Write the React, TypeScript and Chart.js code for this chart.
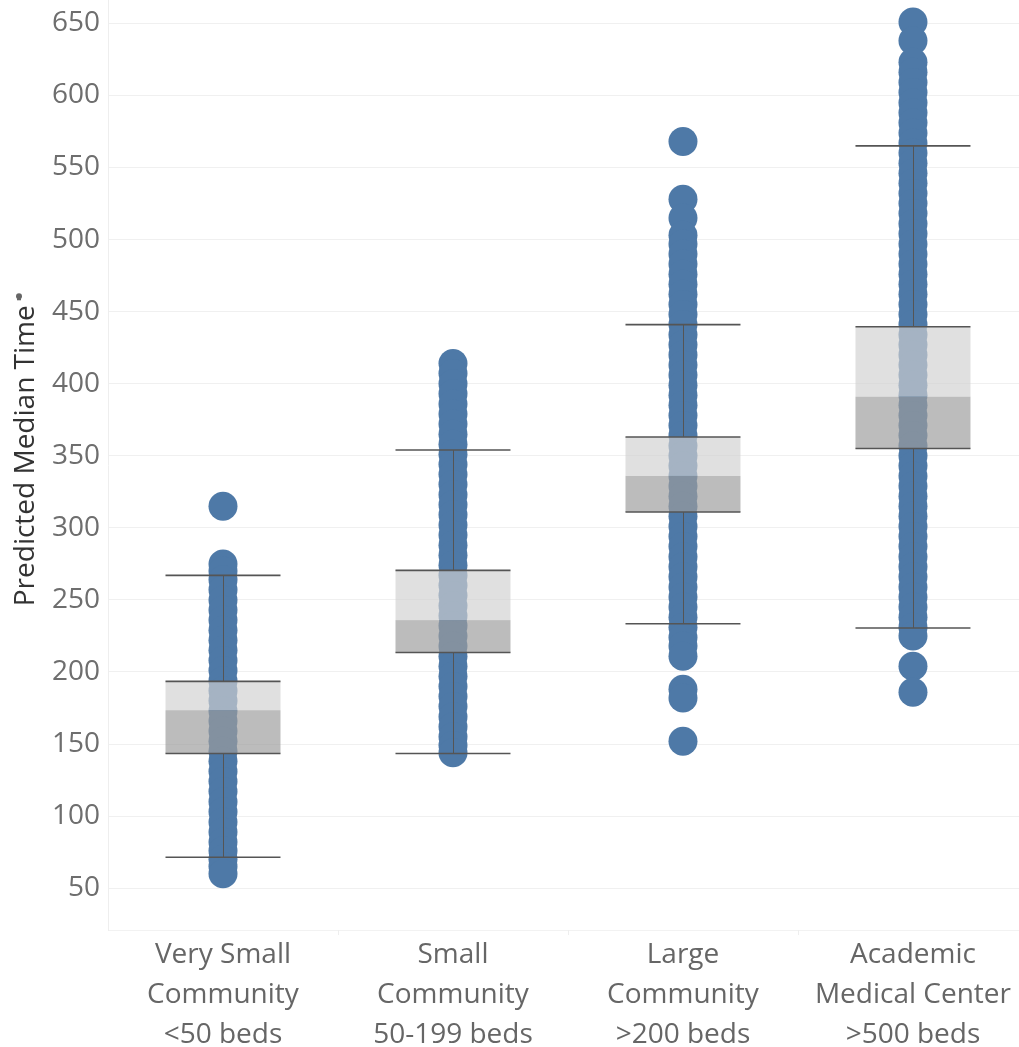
import React, { useEffect, useRef } from "react";
import { Chart, registerables } from "chart.js";

Chart.register(...registerables);

const categories: string[][] = [
  ["Very Small", "Community", "<50 beds"],
  ["Small", "Community", "50-199 beds"],
  ["Large", "Community", ">200 beds"],
  ["Academic", "Medical Center", ">500 beds"],
];

const verySmallValues = [315, 275, 270, 264, 257, 250, 243, 236, 229, 222, 215, 208, 201, 194, 187, 180, 173, 166, 159, 152, 145, 138, 131, 124, 117, 110, 103, 96, 89, 82, 76, 70, 65, 60];
const smallValues = [414, 407, 400, 393, 386, 379, 372, 365, 358, 351, 344, 337, 330, 323, 316, 309, 302, 295, 288, 281, 274, 267, 260, 253, 246, 239, 232, 225, 218, 211, 204, 197, 190, 183, 176, 169, 162, 155, 149, 144];
const largeValues = [568, 528, 515, 503, 497, 490, 483, 476, 469, 462, 455, 448, 441, 434, 427, 420, 413, 406, 399, 392, 385, 378, 371, 364, 357, 350, 343, 336, 329, 322, 315, 308, 301, 294, 287, 280, 273, 266, 259, 252, 245, 238, 231, 224, 218, 211, 188, 182, 152];
const academicValues = [651, 638, 623, 616, 609, 602, 595, 588, 581, 574, 567, 560, 553, 546, 539, 532, 525, 518, 511, 504, 497, 490, 483, 476, 469, 462, 455, 448, 441, 434, 427, 420, 413, 406, 399, 392, 385, 378, 371, 364, 357, 350, 343, 336, 329, 322, 315, 308, 301, 294, 287, 280, 273, 266, 259, 252, 245, 238, 231, 225, 204, 186];

const seriesValues = [verySmallValues, smallValues, largeValues, academicValues];

const whiskerHigh = [267, 354, 441, 565];
const q3Values = [193.5, 270.5, 363, 439.5];
const medianValues = [173.5, 236, 336, 391];
const q1Values = [143.5, 213.5, 311, 355];
const whiskerLow = [71.5, 143.5, 233.5, 230.5];

const yTicks = [50, 100, 150, 200, 250, 300, 350, 400, 450, 500, 550, 600, 650];

const FONT = "'Open Sans', 'DejaVu Sans', sans-serif";
const DOT = "#4e79a7";

const boxPlugin = {
  id: "boxes",
  afterDatasetsDraw(chart: any) {
    const { ctx, scales } = chart;
    const x = scales.x;
    const y = scales.y;
    ctx.save();
    for (let i = 0; i < categories.length; i++) {
      const xl = x.getPixelForValue(i - 0.25);
      const xr = x.getPixelForValue(i + 0.25);
      const xc = x.getPixelForValue(i);
      const yq3 = y.getPixelForValue(q3Values[i]);
      const ym = y.getPixelForValue(medianValues[i]);
      const yq1 = y.getPixelForValue(q1Values[i]);
      const yHi = y.getPixelForValue(whiskerHigh[i]);
      const yLo = y.getPixelForValue(whiskerLow[i]);
      ctx.fillStyle = "rgba(208,208,208,0.667)";
      ctx.fillRect(xl, yq3, xr - xl, ym - yq3);
      ctx.fillStyle = "rgba(156,156,156,0.68)";
      ctx.fillRect(xl, ym, xr - xl, yq1 - ym);
      ctx.strokeStyle = "#555555";
      ctx.lineWidth = 1;
      ctx.beginPath();
      ctx.moveTo(Math.round(xc) + 0.5, yHi);
      ctx.lineTo(Math.round(xc) + 0.5, yq3);
      ctx.moveTo(Math.round(xc) + 0.5, yq1);
      ctx.lineTo(Math.round(xc) + 0.5, yLo);
      ctx.stroke();
      ctx.lineWidth = 1.6;
      ctx.beginPath();
      for (const yy of [yHi, yq3, yq1, yLo]) {
        ctx.moveTo(xl, yy);
        ctx.lineTo(xr, yy);
      }
      ctx.stroke();
    }
    // category separators on the x axis
    ctx.strokeStyle = "#eeeeee";
    ctx.lineWidth = 1;
    ctx.beginPath();
    for (let i = 0; i < categories.length - 1; i++) {
      const xs = Math.round(x.getPixelForValue(i + 0.5)) + 0.5;
      ctx.moveTo(xs, chart.chartArea.bottom);
      ctx.lineTo(xs, chart.chartArea.bottom + 5);
    }
    ctx.stroke();
    // y axis title
    const cy = (y.getPixelForValue(650) + y.getPixelForValue(50)) / 2;
    ctx.translate(26, cy);
    ctx.rotate(-Math.PI / 2);
    ctx.fillStyle = "#333333";
    ctx.font = `28px ${FONT}`;
    ctx.textAlign = "center";
    ctx.textBaseline = "middle";
    const title = "Predicted Median Time";
    ctx.fillText(title, 0, 0);
    const w = ctx.measureText(title).width;
    // small pin marker
    ctx.fillStyle = "#666666";
    ctx.beginPath();
    ctx.arc(w / 2 + 9, -7, 3, 0, Math.PI * 2);
    ctx.fill();
    ctx.fillRect(w / 2 + 5, -9, 2, 4);
    ctx.restore();
  },
};

export default function App() {
  const ref = useRef<HTMLCanvasElement | null>(null);
  useEffect(() => {
    document.body.style.margin = "0";
    const datasets = seriesValues.map((vals, i) => ({
      label: categories[i].join(" "),
      data: vals.map((v) => ({ x: i, y: v })),
      backgroundColor: DOT,
      borderColor: DOT,
      borderWidth: 0,
      pointRadius: 14.5,
      pointHoverRadius: 14.5,
      clip: false as any,
    }));
    const chart = new Chart(ref.current as HTMLCanvasElement, {
      type: "scatter",
      data: { datasets },
      options: {
        animation: false,
        responsive: true,
        maintainAspectRatio: false,
        layout: { padding: 0, autoPadding: false },
        plugins: { legend: { display: false }, tooltip: { enabled: false } },
        scales: {
          x: {
            type: "linear",
            min: -0.5,
            max: 3.461,
            afterBuildTicks: (s: any) => {
              s.ticks = categories.map((_, i) => ({ value: i }));
            },
            afterFit: (s: any) => {
              s.height = 117;
              s.paddingLeft = 0;
              s.paddingRight = 0;
              s.paddingTop = 0;
              s.paddingBottom = 0;
            },
            grid: { display: false, drawTicks: false },
            border: { display: true, color: "#f2f2f2" },
            ticks: {
              padding: 5,
              maxRotation: 0,
              autoSkip: false,
              color: "#666666",
              font: { family: FONT, size: 28, lineHeight: "40px" as any },
              callback: (v: any) => categories[Number(v)] ?? "",
            },
          },
          y: {
            type: "linear",
            min: 21,
            max: 666.2,
            afterBuildTicks: (s: any) => {
              s.ticks = yTicks.map((v) => ({ value: v }));
            },
            afterFit: (s: any) => {
              s.width = 108;
              s.paddingLeft = 0;
              s.paddingRight = 0;
              s.paddingTop = 0;
              s.paddingBottom = 0;
            },
            grid: { color: "#f0f0f0", lineWidth: 1, drawTicks: false },
            border: { display: true, color: "#eeeeee" },
            ticks: {
              padding: 8,
              color: "#6e6e6e",
              font: { family: FONT, size: 28 },
            },
          },
        },
      },
      plugins: [boxPlugin],
    });
    return () => chart.destroy();
  }, []);
  return (
    <div style={{ position: "absolute", left: 0, top: 0, width: 1019, height: 1047 }}>
      <canvas ref={ref} />
    </div>
  );
}
